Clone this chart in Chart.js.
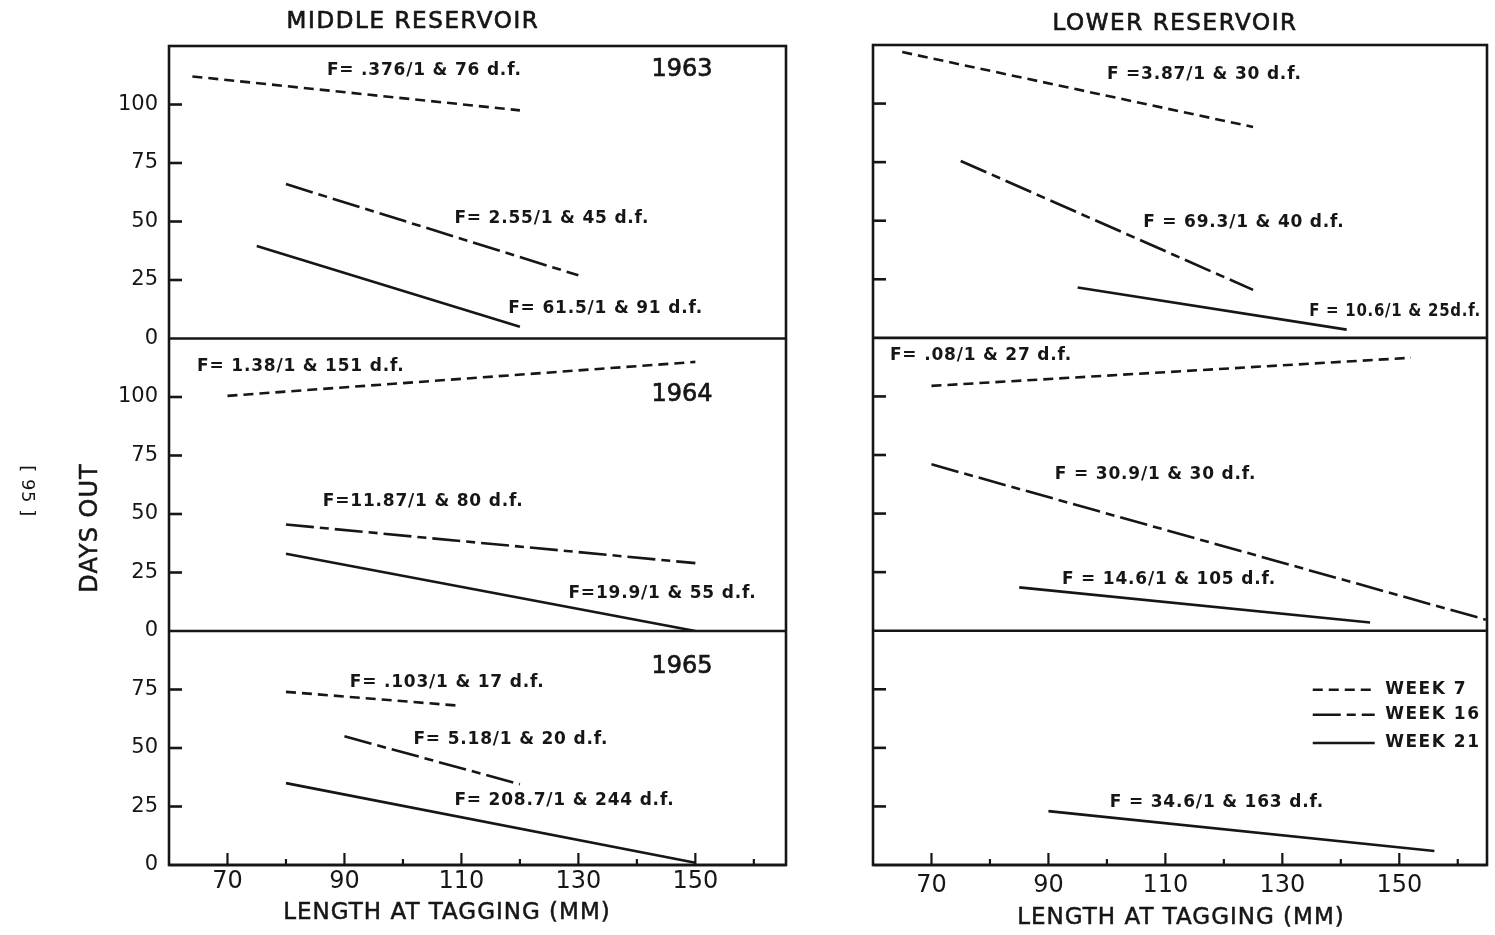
<!DOCTYPE html>
<html>
<head>
<meta charset="utf-8">
<title>Days out by length at tagging</title>
<script src="https://cdn.jsdelivr.net/npm/chart.js@4.4.1/dist/chart.umd.min.js"></script>
<style>
  html, body { margin: 0; padding: 0; background: #fff; }
  #wrap { position: relative; width: 1495px; height: 935px; overflow: hidden; }
  .panel { position: absolute; top: 0; height: 935px; }
  #left { left: 0; width: 800px; }
  #right { left: 800px; width: 695px; }
</style>
</head>
<body>
<div id="wrap">
  <div class="panel" id="left"><canvas id="midChart"></canvas></div>
  <div class="panel" id="right"><canvas id="lowChart"></canvas></div>
</div>
<script>
// fitted lines per week (7, 16, 21): [start, end] length in mm and days out
const weeks = ['WEEK 7', 'WEEK 16', 'WEEK 21'];
const years = ['1963', '1964', '1965'];
const lengthTicks = [70, 80, 90, 100, 110, 120, 130, 140, 150, 160];

// middle reservoir
const midX1963 = [[64, 120], [80, 130], [75, 120]];
const midY1963 = [[112, 97.5], [66, 27], [39.5, 5]];
const midX1964 = [[70, 150], [80, 150], [80, 150]];
const midY1964 = [[100.5, 115], [45.5, 29], [33, 0]];
const midX1965 = [[80, 110], [90, 120], [80, 150]];
const midY1965 = [[74, 68], [55, 34.5], [35, 1]];

// lower reservoir (1965 only has the week 21 fit)
const lowX1963 = [[65, 125], [75, 125], [95, 141]];
const lowY1963 = [[122, 90], [75.5, 20.5], [21.5, 3.5]];
const lowX1964 = [[70, 152], [70, 164.8], [85, 145]];
const lowY1964 = [[104.5, 116.5], [71, 4.7], [18.5, 3.5]];
const lowX1965 = [null, null, [90, 156]];
const lowY1965 = [null, null, [23, 6]];

// F tests written next to the lines
const midF1963 = ['F= .376/1 & 76 d.f.', 'F= 2.55/1 & 45 d.f.', 'F= 61.5/1 & 91 d.f.'];
const midF1964 = ['F= 1.38/1 & 151 d.f.', 'F=11.87/1 & 80 d.f.', 'F=19.9/1 & 55 d.f.'];
const midF1965 = ['F= .103/1 & 17 d.f.', 'F= 5.18/1 & 20 d.f.', 'F= 208.7/1 & 244 d.f.'];
const lowF1963 = ['F =3.87/1 & 30 d.f.', 'F = 69.3/1 & 40 d.f.', 'F = 10.6/1 & 25d.f.'];
const lowF1964 = ['F= .08/1 & 27 d.f.', 'F = 30.9/1 & 30 d.f.', 'F = 14.6/1 & 105 d.f.'];
const lowF1965 = [null, null, 'F = 34.6/1 & 163 d.f.'];

// where the labels sit, in data units (left edge, middle)
const midFAt1963 = [[87, 114.6], [108.8, 51.3], [118, 12.8]];
const midFAt1964 = [[64.8, 112.8], [86.3, 55.1], [128.3, 16.2]];
const midFAt1965 = [[90.9, 77.8], [101.8, 53.4], [108.8, 27.4]];
const lowFAt1963 = [[100, 112.2], [106.2, 49.4], [134.6, 11.3]];
const lowFAt1964 = [[62.9, 117.5], [91.1, 66.7], [92.3, 21.8]];
const lowFAt1965 = [null, null, [100.5, 26.5]];
const yearAt = [[142.5, 115], [142.5, 100.9], [142.5, 84.6]];

const LETTER = '"DejaVu Sans", "Noto Sans", sans-serif';
const INK = '#161616';
const weekDash = [[10, 6], [28, 6, 9, 6], []];
const rowIds = ['yTop', 'yMid', 'yBot'];

function lineSets(xs, ys, axisId) {
    const sets = [];
    xs.forEach((pair, i) => {
        if (!pair) return;
        sets.push({
            label: weeks[i],
            data: [{ x: pair[0], y: ys[i][0] }, { x: pair[1], y: ys[i][1] }],
            yAxisID: axisId,
            showLine: true,
            borderColor: INK,
            borderWidth: 2.6,
            borderDash: weekDash[i],
            pointRadius: 0,
            fill: false
        });
    });
    return sets;
}

function notes(texts, anchors, axis) {
    const out = [];
    texts.forEach((t, i) => {
        if (t) out.push({ text: t, axis: axis, x: anchors[i][0], y: anchors[i][1] });
    });
    return out;
}

function rowAxis(max, order, labelled, width) {
    return {
        type: 'linear',
        position: 'left',
        stack: 'rows',
        stackWeight: max,
        weight: order,
        min: 0,
        max: max,
        grid: { display: false, drawTicks: false },
        border: { display: false },
        ticks: {
            display: labelled,
            stepSize: 25,
            padding: 11,
            color: INK,
            font: { family: LETTER, size: 21 }
        },
        afterBuildTicks: s => { s.ticks = s.ticks.filter(t => t.value < s.max); },
        afterFit: s => { s.width = width; }
    };
}

function lengthAxis(max, pad) {
    return {
        type: 'linear',
        position: 'bottom',
        min: 60,
        max: max,
        grid: { display: false, drawTicks: false },
        border: { display: false },
        afterBuildTicks: s => { s.ticks = lengthTicks.map(v => ({ value: v })); },
        ticks: {
            autoSkip: false,
            maxRotation: 0,
            padding: pad,
            color: INK,
            font: { family: LETTER, size: 24 },
            callback: v => ((v - 70) % 20 === 0 ? v : '')
        },
        afterFit: s => { s.height = 70; }
    };
}

function seg(ctx, x1, y1, x2, y2) {
    ctx.beginPath();
    ctx.moveTo(x1, y1);
    ctx.lineTo(x2, y2);
    ctx.stroke();
}

// lettering: fill plus a thin stroke so it reads as heavy as the drawn original
function text(ctx, str, x, y, font, align, spacing, maxWidth, heavy) {
    ctx.font = font;
    ctx.textAlign = align || 'left';
    ctx.textBaseline = 'middle';
    ctx.letterSpacing = (spacing || 0) + 'px';
    ctx.fillText(str, x, y, maxWidth);
    if (heavy) {
        ctx.save();
        ctx.lineWidth = heavy;
        ctx.setLineDash([]);
        ctx.strokeText(str, x, y, maxWidth);
        ctx.restore();
    }
}

function framePlugin(cfg) {
    return {
        id: 'frame' + cfg.name,
        afterDraw(chart) {
            const { ctx, chartArea: a, scales } = chart;
            ctx.save();
            ctx.strokeStyle = INK;
            ctx.fillStyle = INK;
            ctx.lineWidth = 2.6;
            ctx.setLineDash([]);
            ctx.strokeRect(a.left, a.top, a.right - a.left, a.bottom - a.top);
            rowIds.forEach(id => {
                const s = scales[id];
                seg(ctx, a.left, s.bottom, a.right, s.bottom);
                s.ticks.forEach(t => {
                    if (t.value <= 0) return;
                    const py = s.getPixelForValue(t.value);
                    seg(ctx, a.left, py, a.left + 13, py);
                });
            });
            ctx.lineWidth = 2.2;
            lengthTicks.forEach(v => {
                const px = scales.x.getPixelForValue(v);
                seg(ctx, px, a.bottom, px, a.bottom - ((v - 70) % 20 === 0 ? 12 : 6));
            });

            const fFont = 'bold 17px ' + LETTER;
            cfg.notes.forEach(n => {
                const px = scales.x.getPixelForValue(n.x);
                text(ctx, n.text, px, scales[n.axis].getPixelForValue(n.y), fFont, 'left', 0.8, a.right - px - 6);
            });
            if (cfg.showYears) {
                years.forEach((yr, i) => {
                    text(ctx, yr, scales.x.getPixelForValue(yearAt[i][0]), scales[rowIds[i]].getPixelForValue(yearAt[i][1]),
                        '24px ' + LETTER, 'left', 0, undefined, 0.7);
                });
            }
            text(ctx, cfg.header, cfg.headerX, cfg.headerY, '23px ' + LETTER, 'center', 1.6, undefined, 0.7);
            text(ctx, 'LENGTH AT TAGGING (MM)', cfg.titleX, cfg.titleY, '23px ' + LETTER, 'center', 1, undefined, 0.5);

            if (cfg.sideText) {
                ctx.save();
                ctx.translate(91, 528);
                ctx.rotate(-Math.PI / 2);
                text(ctx, 'DAYS OUT', 0, 0, '24px ' + LETTER, 'center', 1, undefined, 0.5);
                ctx.restore();
                ctx.save();
                ctx.translate(27, 491);
                ctx.rotate(Math.PI / 2);
                text(ctx, '[ 95 ]', 0, 0, '18px ' + LETTER, 'center', 0.5);
                ctx.restore();
            }

            if (cfg.legend) {
                const s = scales.yBot;
                const lx = cfg.legend;
                weeks.forEach((w, i) => {
                    const py = s.getPixelForValue(lx.rows[i]);
                    ctx.lineWidth = 2.4;
                    ctx.setLineDash(weekDash[i]);
                    seg(ctx, scales.x.getPixelForValue(lx.from), py, scales.x.getPixelForValue(lx.to), py);
                    ctx.setLineDash([]);
                    text(ctx, w, scales.x.getPixelForValue(lx.label), py, 'bold 17px ' + LETTER, 'left', 1.5,
                        a.right - scales.x.getPixelForValue(lx.label) - 6);
                });
            }
            ctx.restore();
        }
    };
}

function makeChart(canvasId, sets, xMax, xPad, yWidth, labelled, padding, plugin) {
    return new Chart(document.getElementById(canvasId), {
        type: 'scatter',
        data: { datasets: sets },
        options: {
            responsive: true,
            maintainAspectRatio: false,
            animation: false,
            layout: { padding: padding },
            plugins: { legend: { display: false }, tooltip: { enabled: false } },
            scales: {
                x: lengthAxis(xMax, xPad),
                yTop: rowAxis(125, 3, labelled, yWidth),
                yMid: rowAxis(125, 2, labelled, yWidth),
                yBot: rowAxis(100, 1, labelled, yWidth)
            }
        },
        plugins: [plugin]
    });
}

makeChart('midChart',
    [].concat(lineSets(midX1963, midY1963, 'yTop'), lineSets(midX1964, midY1964, 'yMid'), lineSets(midX1965, midY1965, 'yBot')),
    165.5, 2, 169, true, { top: 46, right: 14, bottom: 0, left: 0 },
    framePlugin({
        name: 'Mid',
        notes: [].concat(notes(midF1963, midFAt1963, 'yTop'), notes(midF1964, midFAt1964, 'yMid'), notes(midF1965, midFAt1965, 'yBot')),
        showYears: true,
        header: 'MIDDLE RESERVOIR', headerX: 413, headerY: 22,
        titleX: 447, titleY: 913,
        sideText: true
    }));

makeChart('lowChart',
    [].concat(lineSets(lowX1963, lowY1963, 'yTop'), lineSets(lowX1964, lowY1964, 'yMid'), lineSets(lowX1965, lowY1965, 'yBot')),
    165, 6, 73, false, { top: 45, right: 8, bottom: 0, left: 0 },
    framePlugin({
        name: 'Low',
        notes: [].concat(notes(lowF1963, lowFAt1963, 'yTop'), notes(lowF1964, lowFAt1964, 'yMid'), notes(lowF1965, lowFAt1965, 'yBot')),
        showYears: false,
        header: 'LOWER RESERVOIR', headerX: 375, headerY: 24,
        titleX: 381, titleY: 918,
        legend: { from: 135.2, to: 145.8, label: 147.6, rows: [74.8, 64.1, 52.1] }
    }));
</script>
</body>
</html>
